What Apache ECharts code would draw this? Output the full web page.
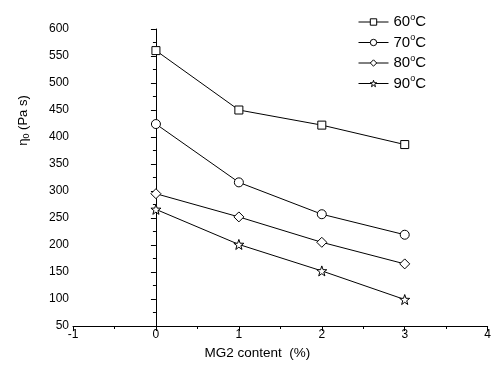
<!DOCTYPE html>
<html>
<head>
<meta charset="utf-8">
<script src="https://cdn.jsdelivr.net/npm/echarts@6/dist/echarts.min.js"></script>
<style>
  html, body { margin: 0; padding: 0; background: #fff; }
  #chart { width: 494px; height: 370px; }
</style>
</head>
<body>
<div id="chart"></div>
<script>
// MG2 含量 (%)
const contents = [0, 1, 2, 3];
// 各温度下的零剪切粘度
const eta60 = [560, 450, 422, 386];
const eta70 = [424, 316, 257, 219];
const eta80 = [295, 252, 205, 165];
const eta90 = [266, 201, 152, 99];
const seriesNames = ['60C', '70C', '80C', '90C'];

const starPath = 'path://M50 0 L61.76 33.82 L97.55 34.55 L69.02 56.18 L79.39 90.45 L50 70 L20.61 90.45 L30.98 56.18 L2.45 34.55 L38.24 33.82 Z';
const symbols = ['rect', 'circle', 'diamond', starPath];
const symbolSizes = [8, 9, 10, 10];
const allData = [eta60, eta70, eta80, eta90];

const font = 'Liberation Sans, Arial, sans-serif';
const myChart = echarts.init(document.getElementById('chart'));

const option = {
    animation: false,
    backgroundColor: '#fff',
    grid: { left: 73, right: 4, top: 29, bottom: 44 },
    legend: {
        orient: 'vertical',
        left: 353,
        top: 8,
        itemWidth: 30,
        itemHeight: 8,
        itemGap: 4,
        itemStyle: { color: '#fff', borderColor: '#000', borderWidth: 1 },
        lineStyle: { color: '#000', width: 1 },
        formatter: (name) => name.replace('C', '') + '{s|o}C',
        textStyle: {
            fontFamily: font,
            fontSize: 15,
            color: '#000',
            rich: {
                s: { fontSize: 9, fontFamily: font, color: '#000', verticalAlign: 'top', padding: [0, 0, 9, 0] }
            }
        }
    },
    xAxis: {
        type: 'value',
        min: -1,
        max: 4,
        interval: 1,
        name: 'MG2 content  (%)',
        nameLocation: 'middle',
        nameGap: 16,
        nameTextStyle: { fontFamily: font, fontSize: 13.5, color: '#000', padding: [0, 46, 0, 0] },
        axisLine: { lineStyle: { color: '#000', width: 1 } },
        axisTick: { inside: false, length: 5, lineStyle: { color: '#000' } },
        minorTick: { show: true, splitNumber: 2, length: 3, lineStyle: { color: '#000' } },
        axisLabel: { fontFamily: font, fontSize: 12, color: '#000', margin: 3 },
        splitLine: { show: false }
    },
    yAxis: {
        type: 'value',
        min: 50,
        max: 600,
        interval: 50,
        name: '{a|η}{b|0} (Pa s)',
        nameLocation: 'middle',
        nameRotate: 90,
        nameGap: 42,
        nameTextStyle: {
            fontFamily: font,
            fontSize: 13,
            color: '#000',
            padding: [0, 0, 0, 114],
            rich: {
                a: { fontFamily: font, fontSize: 13, color: '#000' },
                b: { fontFamily: font, fontSize: 9, color: '#000', verticalAlign: 'bottom', padding: [6, 0, 0, 0] }
            }
        },
        axisLine: { show: true, lineStyle: { color: '#000', width: 1 } },
        axisTick: { show: true, inside: false, length: 5, lineStyle: { color: '#000' } },
        minorTick: { show: true, splitNumber: 2, length: 3, lineStyle: { color: '#000' } },
        axisLabel: { fontFamily: font, fontSize: 12, color: '#000', margin: 4 },
        splitLine: { show: false }
    },
    series: seriesNames.map((name, i) => ({
        name: name,
        type: 'line',
        data: contents.map((c, j) => [c, allData[i][j]]),
        symbol: symbols[i],
        symbolSize: symbolSizes[i],
        showAllSymbol: true,
        lineStyle: { color: '#000', width: 1 },
        itemStyle: { color: '#fff', borderColor: '#000', borderWidth: 1 }
    }))
};

option && myChart.setOption(option);
</script>
</body>
</html>
